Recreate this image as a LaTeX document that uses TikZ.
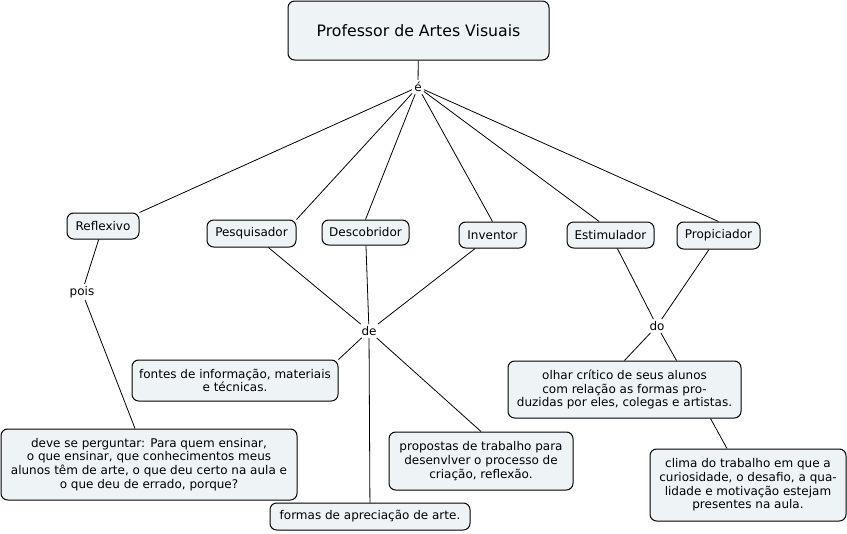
\documentclass[tikz,border=0pt]{standalone}
\usepackage{fontspec}
\setmainfont{DejaVu Sans}
\usetikzlibrary{calc}
\definecolor{boxfill}{HTML}{EEF4F6}
\begin{document}
\begin{tikzpicture}[x=0.75pt,y=-0.75pt,
  concept/.style={draw=black, fill=boxfill, line width=0.75pt, rounded corners=5pt,
    align=center, inner sep=1pt, font=\fontsize{9}{10.3}\selectfont},
  linker/.style={inner sep=1.5pt, font=\fontsize{9}{10.3}\selectfont},
  conn/.style={draw=black, line width=0.6pt}]
\useasboundingbox (0,0) rectangle (847,533);
% concepts
\node[concept, minimum width=195.75pt, minimum height=44.25pt, font=\fontsize{11.8}{13}\selectfont] (title) at (418.5,30.5) {Professor de Artes Visuais};
\node[concept, minimum width=54pt, minimum height=19.5pt] (refl) at (103,226) {Reflexivo};
\node[concept, minimum width=66.75pt, minimum height=20.25pt] (pesq) at (251.5,233.5) {Pesquisador};
\node[concept, minimum width=65.25pt, minimum height=18.75pt] (desc) at (365.5,232.5) {Descobridor};
\node[concept, minimum width=50.25pt, minimum height=19.5pt] (inv) at (492.5,235) {Inventor};
\node[concept, minimum width=65.25pt, minimum height=19.5pt] (est) at (610.5,235) {Estimulador};
\node[concept, minimum width=62.25pt, minimum height=20.25pt] (propic) at (718.5,235.5) {Propiciador};
\node[concept, minimum width=154.5pt, minimum height=30.75pt] (fontes) at (235,380.5) {fontes de informação, materiais\\e técnicas.};
\node[concept, minimum width=222pt, minimum height=53.25pt] (deve) at (149,464.5) {deve se perguntar: Para quem ensinar,\\o que ensinar, que conhecimentos meus\\alunos têm de arte, o que deu certo na aula e\\o que deu de errado, porque?};
\node[concept, minimum width=150pt, minimum height=20.25pt] (formas) at (370,516.5) {formas de apreciação de arte.};
\node[concept, minimum width=138pt, minimum height=43.5pt] (propostas) at (481,461) {propostas de trabalho para\\desenvlver o processo de\\criação, reflexão.};
\node[concept, minimum width=174.75pt, minimum height=42.75pt] (olhar) at (624.5,389.5) {olhar crítico de seus alunos\\com relação as formas pro-\\duzidas por eles, colegas e artistas.};
\node[concept, minimum width=147pt, minimum height=54pt] (clima) at (748,485) {clima do trabalho em que a\\curiosidade, o desafio, a qua-\\lidade e motivação estejam\\presentes na aula.};
% linking phrases
\node[linker] (e) at (418,87) {é};
\node[linker] (pois) at (82,292) {pois};
\node[linker] (de) at (369,331) {de};
\node[linker] (do) at (657,326) {do};
% connectors
\draw[conn] (title) -- (e);
\draw[conn] (e) -- (refl.north east);
\draw[conn] (e) -- (pesq.north east);
\draw[conn] (e) -- (desc.north);
\draw[conn] (e) -- (inv.north);
\draw[conn] (e) -- (est.130);
\draw[conn] (e) -- (propic.north);
\draw[conn] (refl) -- (pois);
\draw[conn] (pois) -- (deve);
\draw[conn] (pesq) -- (de);
\draw[conn] (desc) -- (de);
\draw[conn] (inv) -- (de);
\draw[conn] (de) -- (fontes.north east);
\draw[conn] (de) -- (formas);
\draw[conn] (de) -- (propostas.north);
\draw[conn] (est) -- (do);
\draw[conn] (propic) -- (do);
\draw[conn] (do) -- (olhar.north);
\draw[conn] (do) -- ($(olhar.north)+(52,0)$);
\draw[conn] ($(olhar.south)+(86,0)$) -- ($(clima.north)+(-21,0)$);
\end{tikzpicture}
\end{document}
